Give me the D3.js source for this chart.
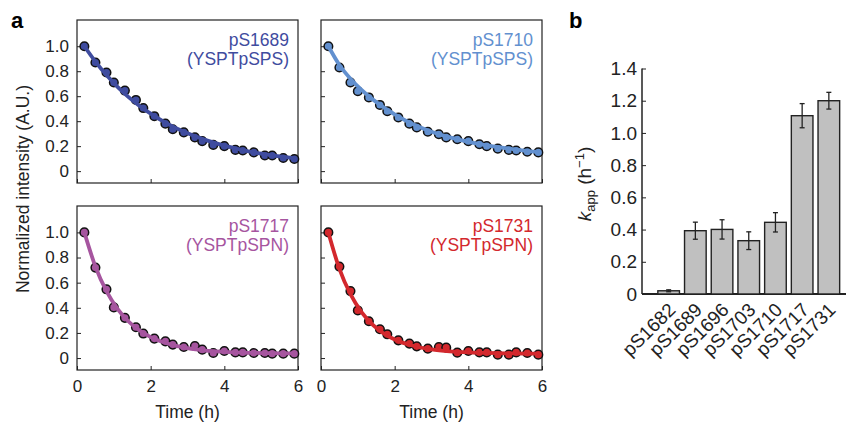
<!DOCTYPE html>
<html>
<head>
<meta charset="utf-8">
<script src="https://cdn.jsdelivr.net/npm/d3@7"></script>
<style>
  body { margin: 0; background: #fff; }
  svg { display: block; font-family: "Liberation Sans", Arial, sans-serif; }
  .axis text { font-size: 17px; fill: #222; }
  .axis line, .axis path { stroke: #222; }
  .axis.big text { font-size: 19px; }
</style>
</head>
<body>
<div class="container"></div>
<script>
// sampling times (h) shared by the four decay traces
const times = [0.2, 0.5, 0.8, 1.0, 1.3, 1.6, 1.8, 2.1, 2.4, 2.6, 2.9, 3.2, 3.4, 3.7, 4.0, 4.3, 4.5, 4.8, 5.1, 5.3, 5.6, 5.9]
const s1689 = [1.0, 0.87, 0.79, 0.71, 0.645, 0.57, 0.505, 0.44, 0.38, 0.335, 0.31, 0.27, 0.24, 0.21, 0.20, 0.17, 0.165, 0.15, 0.125, 0.125, 0.105, 0.097]
const s1710 = [1.0, 0.83, 0.71, 0.64, 0.59, 0.53, 0.48, 0.43, 0.38, 0.35, 0.315, 0.295, 0.27, 0.255, 0.24, 0.215, 0.20, 0.18, 0.17, 0.165, 0.155, 0.15]
const s1717 = [1.0, 0.72, 0.547, 0.403, 0.32, 0.245, 0.195, 0.155, 0.133, 0.107, 0.088, 0.096, 0.067, 0.04, 0.056, 0.045, 0.045, 0.04, 0.04, 0.035, 0.035, 0.035]
const s1731 = [1.0, 0.728, 0.533, 0.379, 0.293, 0.229, 0.189, 0.141, 0.115, 0.093, 0.075, 0.088, 0.083, 0.043, 0.056, 0.045, 0.045, 0.027, 0.027, 0.045, 0.04, 0.027]

// fitted curves
const fitTimes = [0.2, 0.5, 0.8, 1.1, 1.4, 1.7, 2.0, 2.5, 3.0, 3.5, 4.0, 4.5, 5.0, 5.5, 5.9]
const fit1689 = [1.0, 0.877, 0.769, 0.675, 0.593, 0.522, 0.46, 0.372, 0.303, 0.248, 0.204, 0.169, 0.14, 0.118, 0.103]
const fit1710 = [1.0, 0.85, 0.74, 0.65, 0.575, 0.51, 0.455, 0.375, 0.315, 0.27, 0.235, 0.207, 0.185, 0.165, 0.152]
const fit1717 = [1.0, 0.728, 0.532, 0.392, 0.291, 0.219, 0.167, 0.112, 0.079, 0.06, 0.05, 0.043, 0.04, 0.038, 0.037]
const fit1731 = [1.0, 0.71, 0.508, 0.366, 0.267, 0.197, 0.148, 0.098, 0.069, 0.054, 0.046, 0.041, 0.038, 0.036, 0.035]

const seriesNames = ["pS1689", "pS1710", "pS1717", "pS1731"]
const motifs = ["(YSPTpSPS)", "(YSPTpSPS)", "(YSPTpSPN)", "(YSPTpSPN)"]
const colors = ["#3f4c9f", "#6290cf", "#a6559f", "#d3282d"]

const xTicksA = [0, 2, 4, 6]
const yTicksA = [0, 0.2, 0.4, 0.6, 0.8, 1.0]

// panel b
const barLabels = ["pS1682", "pS1689", "pS1696", "pS1703", "pS1710", "pS1717", "pS1731"]
const barValues = [0.02, 0.393, 0.401, 0.331, 0.445, 1.107, 1.2]
const barErrors = [0.006, 0.053, 0.06, 0.055, 0.06, 0.075, 0.052]
const yTicksB = [0, 0.2, 0.4, 0.6, 0.8, 1.0, 1.2, 1.4]

const width = 846
const height = 426
const fmt = d => d === 0 ? "0" : d3.format(".1f")(d)

let svg = d3.select(".container")
    .append("svg")
    .attr("width", width)
    .attr("height", height)
    .attr("viewBox", [0, 0, width, height])

svg.append("rect").attr("width", width).attr("height", height).attr("fill", "#fff")

// ---- panel a: four decay plots ----
const points = [s1689, s1710, s1717, s1731]
const fits = [fit1689, fit1710, fit1717, fit1731]
const panels = [
    { left: 77, right: 298, top: 20, bottom: 183, yLabels: true, xLabels: false },
    { left: 321, right: 542, top: 20, bottom: 183, yLabels: false, xLabels: false },
    { left: 77, right: 298, top: 206, bottom: 370, yLabels: true, xLabels: true },
    { left: 321, right: 542, top: 206, bottom: 370, yLabels: false, xLabels: true }
]

panels.forEach((p, i) => {
    let x = d3.scaleLinear().domain([0, 6]).range([p.left, p.right])
    let y = d3.scaleLinear().domain([-0.095, 1.21]).range([p.bottom, p.top])
    let g = svg.append("g")

    g.append("g")
        .attr("class", "axis")
        .attr("transform", `translate(${p.left},0)`)
        .call(d3.axisLeft(y).tickValues(yTicksA).tickSize(-4).tickPadding(8)
            .tickFormat(p.yLabels ? fmt : ""))
        .call(a => a.select(".domain").remove())

    g.append("g")
        .attr("class", "axis")
        .attr("transform", `translate(0,${p.bottom})`)
        .call(d3.axisBottom(x).tickValues(xTicksA).tickSize(-4).tickPadding(10)
            .tickFormat(p.xLabels ? d3.format("d") : ""))
        .call(a => a.select(".domain").remove())

    g.append("rect")
        .attr("x", p.left).attr("y", p.top)
        .attr("width", p.right - p.left).attr("height", p.bottom - p.top)
        .attr("fill", "none").attr("stroke", "#222").attr("stroke-width", 1.2)

    g.append("g")
        .selectAll("circle")
        .data(points[i].map((v, j) => [times[j], v]))
        .join("circle")
        .attr("cx", d => x(d[0]))
        .attr("cy", d => y(d[1]))
        .attr("r", 4.3)
        .attr("fill", colors[i])
        .attr("stroke", "#111")
        .attr("stroke-width", 1.5)

    let line = d3.line()
        .x(d => x(d[0]))
        .y(d => y(d[1]))
        .curve(d3.curveMonotoneX)

    g.append("path")
        .datum(fits[i].map((v, j) => [fitTimes[j], v]))
        .attr("d", line)
        .attr("fill", "none")
        .attr("stroke", colors[i])
        .attr("stroke-width", 3.8)
        .attr("stroke-linecap", "round")

    let label = g.append("text")
        .attr("text-anchor", "end")
        .attr("fill", colors[i])
        .style("font-size", "17.5px")
    label.append("tspan").attr("x", p.right - 9).attr("y", p.top + 26).text(seriesNames[i])
    label.append("tspan").attr("x", p.right - 9).attr("y", p.top + 45).text(motifs[i])

    if (p.xLabels) {
        g.append("text")
            .attr("x", (p.left + p.right) / 2)
            .attr("y", 418)
            .attr("text-anchor", "middle")
            .style("font-size", "17.5px")
            .attr("fill", "#222")
            .text("Time (h)")
    }
})

svg.append("text")
    .attr("transform", "translate(29,189) rotate(-90)")
    .attr("text-anchor", "middle")
    .style("font-size", "17.5px")
    .attr("fill", "#222")
    .text("Normalized intensity (A.U.)")

svg.append("text")
    .attr("x", 11).attr("y", 28)
    .style("font-size", "22px").style("font-weight", "bold")
    .text("a")

// ---- panel b: k_app bars ----
let xB = d3.scaleBand()
    .domain(barLabels)
    .range([652.5, 845])
    .paddingInner(0.19)
    .paddingOuter(0.2)

let yB = d3.scaleLinear().domain([0, 1.4]).range([294, 68.5])

svg.append("g")
    .attr("class", "axis big")
    .attr("transform", "translate(642,0)")
    .call(d3.axisLeft(yB).tickValues(yTicksB).tickSize(-4).tickPadding(5).tickFormat(fmt))
    .call(a => a.select(".domain").attr("d", `M0,${yB(1.4)}V${yB(0)}`).attr("stroke-width", 1.5))

svg.append("line")
    .attr("x1", 642).attr("x2", 846)
    .attr("y1", yB(0)).attr("y2", yB(0))
    .attr("stroke", "#222").attr("stroke-width", 1.8)

svg.append("g")
    .selectAll("rect")
    .data(barLabels)
    .join("rect")
    .attr("x", d => xB(d))
    .attr("y", (d, i) => yB(barValues[i]))
    .attr("width", xB.bandwidth())
    .attr("height", (d, i) => yB(0) - yB(barValues[i]))
    .attr("fill", "#c0c0c0")
    .attr("stroke", "#222")
    .attr("stroke-width", 1.4)

let err = svg.append("g").attr("stroke", "#222").attr("stroke-width", 1.3)
barLabels.forEach((d, i) => {
    let cx = xB(d) + xB.bandwidth() / 2
    let lo = yB(barValues[i] - barErrors[i])
    let hi = yB(barValues[i] + barErrors[i])
    err.append("line").attr("x1", cx).attr("x2", cx).attr("y1", lo).attr("y2", hi)
    err.append("line").attr("x1", cx - 2.5).attr("x2", cx + 2.5).attr("y1", lo).attr("y2", lo)
    err.append("line").attr("x1", cx - 2.5).attr("x2", cx + 2.5).attr("y1", hi).attr("y2", hi)
})

svg.append("g")
    .selectAll("text")
    .data(barLabels)
    .join("text")
    .attr("transform", d => `translate(${xB(d) + xB.bandwidth() / 2 + 8},311) rotate(-45)`)
    .attr("text-anchor", "end")
    .style("font-size", "19px")
    .attr("fill", "#222")
    .text(d => d)

let kLabel = svg.append("text")
    .attr("transform", "translate(591,184) rotate(-90)")
    .attr("text-anchor", "middle")
    .style("font-size", "19px")
    .attr("fill", "#222")
kLabel.append("tspan").style("font-style", "italic").text("k")
kLabel.append("tspan").attr("dy", 4).style("font-size", "13px").text("app")
kLabel.append("tspan").attr("dy", -4).text(" (h")
kLabel.append("tspan").attr("dy", -7).style("font-size", "13px").text("−1")
kLabel.append("tspan").attr("dy", 7).text(")")

svg.append("text")
    .attr("x", 569).attr("y", 28)
    .style("font-size", "22px").style("font-weight", "bold")
    .text("b")
</script>
</body>
</html>
